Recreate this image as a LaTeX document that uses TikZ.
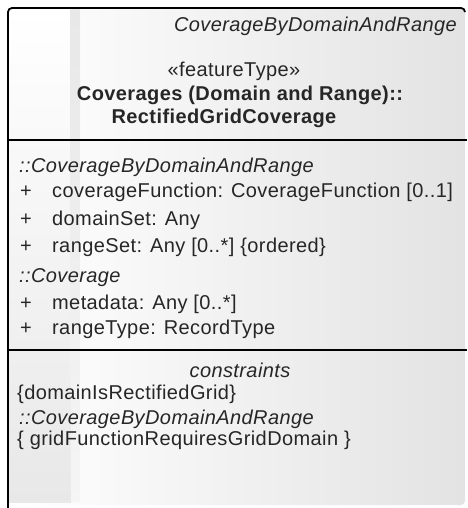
\documentclass[tikz,border=0pt]{standalone}
\usepackage{fontspec}
\setmainfont{Liberation Sans}[LetterSpace=2]
\begin{document}
\begin{tikzpicture}[x=1pt,y=-1pt,
  txt/.style={inner sep=0pt, font=\fontsize{20}{23}\selectfont, text=black!85},
  itxt/.style={txt, font=\fontsize{20}{23}\selectfont\itshape},
  btxt/.style={txt, font=\fontsize{20}{23}\selectfont\bfseries},
  border/.style={line width=1.8pt, black},
  sep/.style={line width=1.8pt, black}]
\useasboundingbox (0,0) rectangle (467,508);
% body fill
\shade[left color=white, right color=black!11, rounded corners=4pt] (8,8) rectangle (465,505);
\shade[top color=white, bottom color=black!9] (9,9) rectangle (71,502);
\shade[top color=black!9, bottom color=black!4] (70,9) -- (80,9) -- (80,502) -- (71,502) -- cycle;
% borders
\draw[border, rounded corners=4pt] (8,508) -- (8,8) -- (465,8) -- (465,12);
\coordinate (s1l) at (8,140);  \coordinate (s1r) at (467,140);
\coordinate (s2l) at (8,350);  \coordinate (s2r) at (467,350);
\draw[sep] (s1l) -- (s1r);
\draw[sep] (s2l) -- (s2r);
% header
\node[itxt, anchor=base east] (parent) at (457,32) {CoverageByDomainAndRange};
\node[txt, anchor=base] (stereo) at (234,77) {«featureType»};
\node[btxt, anchor=base] (name1) at (240,101) {Coverages (Domain and Range)::};
\node[btxt, anchor=base] (name2) at (224,124) {RectifiedGridCoverage};
% attributes
\node[itxt, anchor=base west] (g1) at (19,172) {::CoverageByDomainAndRange};
\node[txt, anchor=base west] (p1) at (20,197) {+};
\node[txt, anchor=base west] (a1) at (52,197) {coverageFunction: CoverageFunction [0..1]};
\node[txt, anchor=base west] (p2) at (20,225) {+};
\node[txt, anchor=base west] (a2) at (52,225) {domainSet: Any};
\node[txt, anchor=base west] (p3) at (20,252) {+};
\node[txt, anchor=base west] (a3) at (52,252) {rangeSet: Any [0..*] \{ordered\}};
\node[itxt, anchor=base west] (g2) at (19,282) {::Coverage};
\node[txt, anchor=base west] (p4) at (20,309) {+};
\node[txt, anchor=base west] (a4) at (52,309) {metadata: Any [0..*]};
\node[txt, anchor=base west] (p5) at (20,334) {+};
\node[txt, anchor=base west] (a5) at (52,334) {rangeType: RecordType};
% constraints
\node[itxt, anchor=base] (ct) at (240,377) {constraints};
\node[txt, anchor=base west] (c1) at (17,399) {\{domainIsRectifiedGrid\}};
\node[itxt, anchor=base west] (g3) at (19,424) {::CoverageByDomainAndRange};
\node[txt, anchor=base west] (c2) at (17,445) {\{ gridFunctionRequiresGridDomain \}};
\end{tikzpicture}
\end{document}
